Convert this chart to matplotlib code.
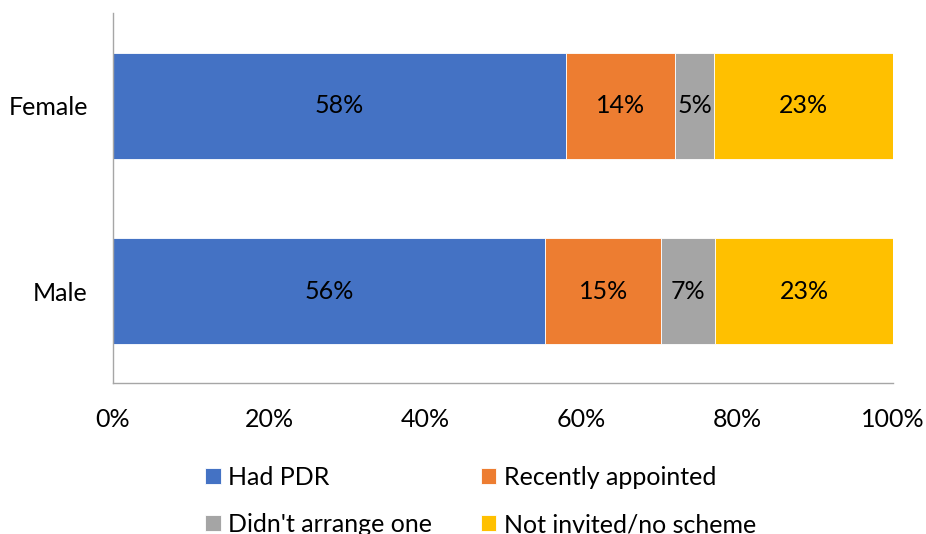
import matplotlib
matplotlib.use('Agg')
import matplotlib.pyplot as plt
import numpy as np

# ======
# data
# ======
groups = ['Male', 'Female']
series = ['Had PDR', 'Recently appointed', "Didn't arrange one", 'Not invited/no scheme']
had_pdr = [55.4, 58.1]
recently_appointed = [14.9, 14.0]
didnt_arrange = [6.9, 5.0]
not_invited = [22.8, 22.9]
label_text = [['56%', '15%', '7%', '23%'],
              ['58%', '14%', '5%', '23%']]
xticks = [0, 20, 40, 60, 80, 100]

colors = ['#4472C4', '#ED7D31', '#A5A5A5', '#FFC000']

plt.rcParams['font.family'] = ['Lato', 'DejaVu Sans']
fs = 18

fig = plt.figure(figsize=(9.26, 5.34), dpi=100)
ax = fig.add_axes([0.122, 0.2828, 0.8424, 0.6929])

y = np.arange(len(groups))
left = np.zeros(len(groups))
handles = []
for i, vals in enumerate([had_pdr, recently_appointed, didnt_arrange, not_invited]):
    vals = np.array(vals)
    b = ax.barh(y, vals, left=left, height=0.57, color=colors[i],
                edgecolor='white', linewidth=0.6, label=series[i])
    handles.append(b)
    for j in range(len(groups)):
        ax.text(left[j] + vals[j] / 2, y[j], label_text[j][i],
                ha='center', va='center', fontsize=fs, color='black')
    left += vals

ax.set_xlim(0, 100)
ax.set_ylim(-0.495, 1.5)
ax.set_xticks(xticks)
ax.set_xticklabels(['{}%'.format(t) for t in xticks])
ax.set_yticks(y)
ax.set_yticklabels(groups)
ax.tick_params(axis='both', length=0, labelsize=fs)
ax.tick_params(axis='x', pad=18)
ax.tick_params(axis='y', pad=18)

for s in ['top', 'right']:
    ax.spines[s].set_visible(False)
for s in ['left', 'bottom']:
    ax.spines[s].set_color('#A6A6A6')
    ax.spines[s].set_linewidth(1.0)

# legend fills by column, so reorder to get row-wise order
leg_order = [0, 2, 1, 3]
fig.legend(handles=[handles[k] for k in leg_order], loc='upper left',
           bbox_to_anchor=(0.2214, 0.127),
           ncol=2, frameon=False, fontsize=fs, handlelength=0.62,
           handleheight=0.62, handletextpad=0.3, columnspacing=1.95,
           labelspacing=0.96, borderaxespad=0, borderpad=0)

fig.savefig('out.png', dpi=100)
